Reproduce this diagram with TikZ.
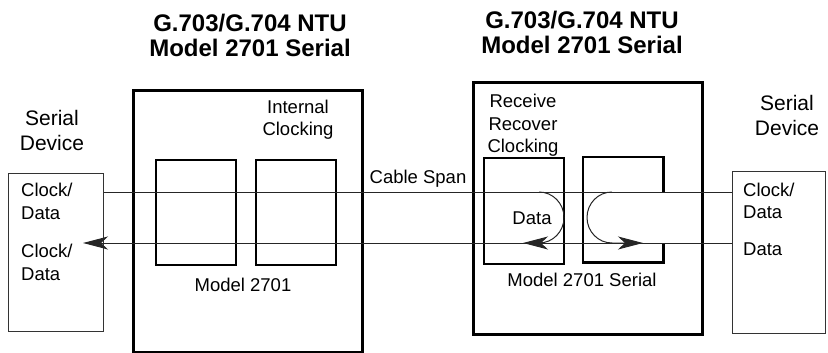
\documentclass[tikz,border=0pt]{standalone}
\usepackage{fontspec}
\setmainfont{Liberation Sans}
\usetikzlibrary{arrows.meta}
\begin{document}
\begin{tikzpicture}[x=1pt,y=-1pt,
  box/.style={inner sep=0pt, anchor=north west},
  ntubox/.style={box, draw, line width=3pt},
  subbox/.style={box, draw, line width=2.2pt},
  devbox/.style={box, draw, line width=1pt, draw=black!80},
  conn/.style={line width=1pt, draw=black!85},
  tip/.style={-{Stealth[length=25pt, width=13pt, inset=7pt]}},
  lbl/.style={inner sep=0pt, font=\fontsize{18.5}{23}\selectfont},
  devlbl/.style={inner sep=0pt, anchor=north, align=center, font=\fontsize{21}{25}\selectfont},
  title/.style={inner sep=0pt, anchor=north, align=center, font=\fontsize{24}{25}\selectfont\bfseries}
]
\useasboundingbox (0,0) rectangle (828,353);

% titles
\node[title] (t1) at (250,14) {G.703/G.704 NTU\\Model 2701 Serial};
\node[title] (t2) at (582,11) {G.703/G.704 NTU\\Model 2701 Serial};

% device labels
\node[devlbl] (sd1) at (52,110) {Serial\\Device};
\node[devlbl] (sd2) at (787,95) {Serial\\Device};

% boxes
\node[devbox, minimum width=95pt, minimum height=158pt] (ldev) at (8,173) {};
\node[ntubox, minimum width=229pt, minimum height=262pt] (lntu) at (132,89) {};
\node[subbox, minimum width=80pt, minimum height=105pt] (b1) at (155,159) {};
\node[subbox, minimum width=80pt, minimum height=105pt] (b2) at (255,159) {};
\node[ntubox, minimum width=229pt, minimum height=252pt] (rntu) at (472,81) {};
\node[subbox, minimum width=80pt, minimum height=106pt] (b3) at (483,157) {};
\node[box, minimum width=80pt, minimum height=105pt] (b4) at (583,157) {};
\node[devbox, minimum width=93pt, minimum height=162pt] (rdev) at (732,171) {};

% reference levels
\coordinate (y1) at (0,192);
\coordinate (y2) at (0,243);
\coordinate (tipL) at (83,243);
\coordinate (tipM) at (523,243);
\coordinate (tipR) at (643,243);
\coordinate (loopL) at (539,192);
\coordinate (loopR) at (612,192);

% box 4 with opening on its right side
\draw[line width=2.2pt] (b4.east |- y1) -- (b4.north east) -- (b4.north west)
   -- (b4.south west) -- (b4.south east) -- (b4.east |- y2);

% connectors
\draw[conn] (ldev.east |- y1) -- (rdev.west |- y1);
\draw[conn, tip] (rdev.west |- y2) -- (tipL);
\draw[conn, tip] (loopL) arc[start angle=-90, end angle=90, x radius=25, y radius=25.5] -- (tipM);
\draw[conn, tip] (loopR) arc[start angle=-90, end angle=-270, x radius=25, y radius=25.5] -- (tipR);

% inner labels
\node[lbl, anchor=north, align=center, font=\fontsize{18.5}{22}\selectfont] (ic) at (298,100) {Internal\\Clocking};
\node[lbl, anchor=north, align=center, font=\fontsize{18.5}{22.5}\selectfont] (rrc) at (523,94) {Receive\\Recover\\Clocking};
\node[lbl, anchor=north] (cs) at (418,170) {Cable Span};
\node[lbl, anchor=north] (dl) at (532,212) {Data};
\node[lbl, anchor=north] (m1) at (243,278) {Model 2701};
\node[lbl, anchor=north] (m2) at (582,273) {Model 2701 Serial};

% device texts
\node[lbl, anchor=north west, align=left] (lcd1) at (21,183) {Clock/\\Data};
\node[lbl, anchor=north west, align=left] (lcd2) at (21,244) {Clock/\\Data};
\node[lbl, anchor=north west, align=left, font=\fontsize{18.5}{22}\selectfont] (rcd1) at (743,183) {Clock/\\Data};
\node[lbl, anchor=north west] (rd) at (743,243) {Data};
\end{tikzpicture}
\end{document}
